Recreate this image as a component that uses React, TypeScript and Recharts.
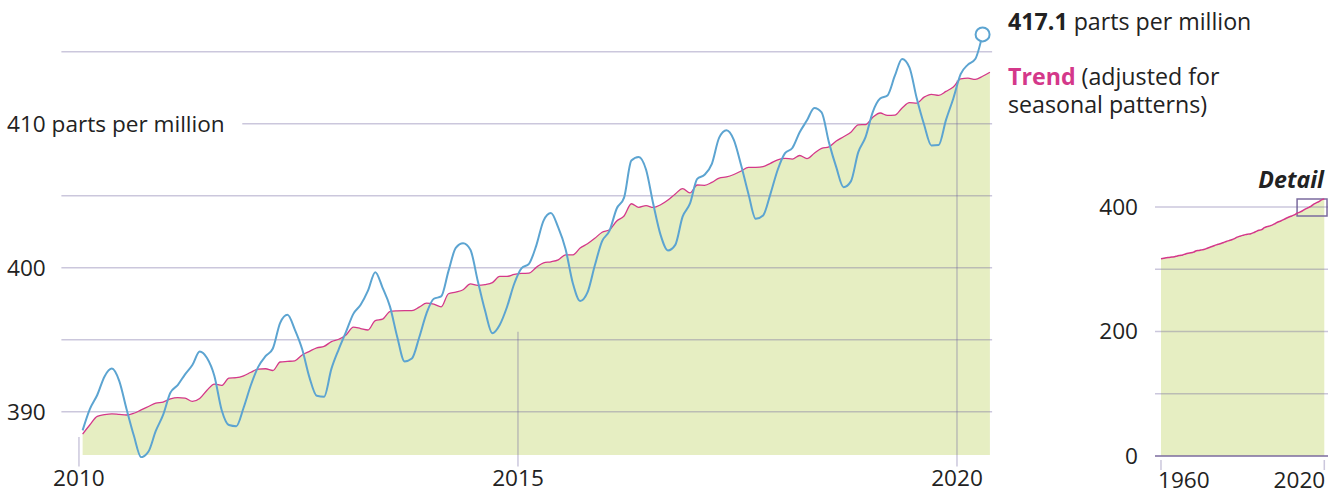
import React from "react";
import {
  ComposedChart,
  Area,
  Line,
  XAxis,
  YAxis,
  ReferenceLine,
  ReferenceDot,
  ReferenceArea,
} from "recharts";

// monthly mean CO2, Jan 2010 – Apr 2020 (ppm)
const CO2_MONTHLY = [
  388.71, 390.2, 391.17, 392.46, 393.0, 392.15, 390.2, 388.35, 386.85, 387.24, 388.67, 389.79,
  391.33, 391.86, 392.6, 393.25, 394.19, 393.74, 392.51, 390.13, 389.08, 389.0, 390.28, 391.86,
  393.12, 393.86, 394.4, 396.18, 396.74, 395.71, 394.36, 392.39, 391.11, 391.05, 392.98, 394.34,
  395.55, 396.8, 397.43, 398.41, 399.7, 398.61, 397.32, 395.2, 393.5, 393.7, 395.16, 396.84,
  397.85, 398.01, 399.77, 401.38, 401.7, 401.25, 399.1, 397.03, 395.45, 396.03, 397.28, 398.91,
  399.98, 400.28, 401.54, 403.28, 403.8, 402.8, 401.31, 398.93, 397.7, 398.29, 400.16, 401.85,
  402.56, 404.12, 404.87, 407.45, 407.7, 406.83, 404.41, 402.27, 401.2, 401.59, 403.55, 404.45,
  406.17, 406.46, 407.22, 409.04, 409.55, 408.88, 407.12, 405.13, 403.4, 403.63, 405.12, 406.81,
  407.96, 408.32, 409.41, 410.24, 411.1, 410.79, 408.71, 406.99, 405.6, 406.0, 408.02, 409.07,
  410.83, 411.75, 411.97, 413.32, 414.5, 413.92, 411.77, 409.95, 408.5, 408.53, 410.27, 411.76,
  413.45, 414.11, 414.5, 416.21,
];

// trend (seasonally adjusted), Jan 2010 – May 2020
const TREND_MONTHLY = [
  388.45, 389.1, 389.68, 389.8, 389.86, 389.82, 389.78, 389.9, 390.13, 390.37, 390.61, 390.68,
  390.9, 390.99, 390.95, 390.73, 390.93, 391.5, 391.93, 391.83, 392.34, 392.37, 392.5, 392.75,
  392.97, 392.99, 392.87, 393.46, 393.5, 393.54, 393.95, 394.2, 394.44, 394.54, 394.88, 395.04,
  395.33, 395.88, 395.78, 395.68, 396.34, 396.43, 396.96, 397.01, 397.03, 397.03, 397.27, 397.55,
  397.47, 397.29, 398.2, 398.32, 398.48, 398.88, 398.78, 398.83, 398.97, 399.4, 399.4, 399.55,
  399.61, 399.63, 400.03, 400.35, 400.42, 400.55, 400.9, 400.9, 401.37, 401.67, 402.05, 402.47,
  402.64, 403.25, 403.6, 404.45, 404.2, 404.32, 404.19, 404.38, 404.71, 405.13, 405.5, 405.2,
  405.75, 405.73, 405.93, 406.23, 406.31, 406.48, 406.72, 406.97, 406.98, 407.03, 407.25, 407.5,
  407.6, 407.55, 407.8, 407.58, 407.95, 408.3, 408.4, 408.8, 409.1, 409.42, 409.93, 409.95,
  410.45, 410.75, 410.58, 410.6, 411.1, 411.47, 411.44, 411.85, 412.05, 411.98, 412.25, 412.55,
  413.12, 413.17, 413.08, 413.3, 413.58,
];

// annual trend for the overview panel, 1960–2020
const LONG_YEARS = Array.from({ length: 61 }, (_, i) => 1960 + i);
const LONG_TREND = [
  316.9, 317.6, 318.5, 319.0, 319.6, 320.0, 321.4, 322.2, 323.0, 324.6,
  325.7, 326.3, 327.5, 329.7, 330.2, 331.1, 332.0, 333.8, 335.4, 336.8,
  338.7, 340.1, 341.4, 343.0, 344.6, 346.0, 347.4, 349.2, 351.6, 353.1,
  354.4, 355.6, 356.4, 357.1, 358.8, 360.8, 362.6, 363.7, 366.7, 368.4,
  369.7, 371.3, 373.5, 375.8, 377.5, 379.8, 381.9, 383.8, 385.6, 387.4,
  389.9, 391.7, 393.9, 396.5, 398.7, 400.8, 404.2, 406.5, 408.7, 411.4,
  413.0,
];

const MAIN_X_TICKS = [2010, 2015, 2020];
const MAIN_Y_TICKS = [390, 400, 410];
const MAIN_GRID = [390, 395, 400, 405, 410, 415];
const INSET_Y_TICKS = [0, 200, 400];
const INSET_GRID = [100, 200, 300, 400];
const INSET_X_TICKS = [1960, 2020];

const monthlyData = TREND_MONTHLY.map((trend, i) => ({
  t: 2010 + (i + 0.5) / 12,
  trend,
  co2: CO2_MONTHLY[i],
}));
const longData = LONG_YEARS.map((year, i) => ({ year, trend: LONG_TREND[i] }));

const FONT = "'Open Sans', 'Noto Sans', sans-serif";
const TEXT = "#222";
const BLUE = "#5ca4d1";
const PINK = "#d4388a";
const FILL = "#e6eec2";
const GRID = "rgba(106,95,154,0.35)";
const PURPLE = "#7b6b9e";
const AXIS_FS = 22.6;
const NOTE_FS = 23.2;

const lastIdx = CO2_MONTHLY.length - 1;

export default function App() {
  return (
    <div
      style={{
        position: "absolute",
        left: 0,
        top: 0,
        width: 1342,
        height: 495,
        background: "#fff",
        fontFamily: FONT,
      }}
    >
      <div style={{ position: "absolute", left: 0, top: 0 }}>
        <ComposedChart
          width={1000}
          height={495}
          data={monthlyData}
          margin={{ top: 8.6, right: 7.9, left: 0, bottom: 0 }}
        >
          <XAxis
            dataKey="t"
            type="number"
            domain={[2009.8, 2020.4]}
            ticks={MAIN_X_TICKS}
            allowDataOverflow
            height={37.1}
            axisLine={false}
            tickLine={false}
            tick={(p: any) => (
              <text
                x={p.x}
                y={486}
                textAnchor="middle"
                fontSize={AXIS_FS}
                fill={TEXT}
                fontFamily={FONT}
              >
                {p.payload.value}
              </text>
            )}
          />
          <YAxis
            type="number"
            domain={[386.8, 418]}
            ticks={MAIN_Y_TICKS}
            allowDataOverflow
            width={61.4}
            axisLine={false}
            tickLine={false}
            tick={(p: any) => (
              <text
                x={7}
                y={p.y + 8}
                textAnchor="start"
                fontSize={AXIS_FS}
                fill={TEXT}
                fontFamily={FONT}
              >
                {p.payload.value === 410 ? "410 parts per million" : p.payload.value}
              </text>
            )}
          />
          <Area
            dataKey="trend"
            type="monotone"
            stroke="none"
            fill={FILL}
            fillOpacity={1}
            baseValue={387}
            isAnimationActive={false}
          />
          {MAIN_GRID.map((v) => (
            <ReferenceLine
              key={v}
              segment={[
                { x: v === 410 ? 2011.86 : 2009.8, y: v },
                { x: 2020.4, y: v },
              ]}
              stroke={GRID}
              strokeWidth={1.5}
            />
          ))}
          <ReferenceLine
            segment={[{ x: 2010, y: 388.26 }, { x: 2010, y: 386.2 }]}
            stroke={GRID}
            strokeWidth={1.5}
            ifOverflow="visible"
          />
          <ReferenceLine
            segment={[{ x: 2015, y: 395.56 }, { x: 2015, y: 386.2 }]}
            stroke={GRID}
            strokeWidth={1.5}
            ifOverflow="visible"
          />
          <ReferenceLine
            segment={[{ x: 2020, y: 413.0 }, { x: 2020, y: 386.2 }]}
            stroke={GRID}
            strokeWidth={1.5}
            ifOverflow="visible"
          />
          <Line
            dataKey="trend"
            type="monotone"
            stroke={PINK}
            strokeWidth={1.3}
            dot={false}
            isAnimationActive={false}
          />
          <Line
            dataKey="co2"
            type="monotone"
            stroke={BLUE}
            strokeWidth={2}
            dot={false}
            connectNulls={false}
            isAnimationActive={false}
          />
          <ReferenceDot
            x={monthlyData[lastIdx].t}
            y={CO2_MONTHLY[lastIdx]}
            r={7}
            fill="#fff"
            stroke={BLUE}
            strokeWidth={2}
            ifOverflow="visible"
          />
        </ComposedChart>
      </div>

      <div style={{ position: "absolute", left: 1080, top: 0 }}>
        <ComposedChart
          width={262}
          height={495}
          data={longData}
          margin={{ top: 188.3, right: 14, left: 0, bottom: 0 }}
        >
          <XAxis
            dataKey="year"
            type="number"
            domain={[1957.8, 2021.36]}
            ticks={INSET_X_TICKS}
            allowDataOverflow
            height={39}
            axisLine={false}
            tickLine={false}
            tick={(p: any) => (
              <text
                x={p.payload.value === 1960 ? p.x - 3 : p.x + 1}
                y={488}
                textAnchor={p.payload.value === 1960 ? "start" : "end"}
                fontSize={AXIS_FS}
                fill={TEXT}
                fontFamily={FONT}
              >
                {p.payload.value}
              </text>
            )}
          />
          <YAxis
            type="number"
            domain={[0, 430]}
            ticks={INSET_Y_TICKS}
            allowDataOverflow
            width={75}
            axisLine={false}
            tickLine={false}
            tick={(p: any) => (
              <text
                x={58}
                y={p.y + 8}
                textAnchor="end"
                fontSize={AXIS_FS}
                fill={TEXT}
                fontFamily={FONT}
              >
                {p.payload.value}
              </text>
            )}
          />
          <Area
            dataKey="trend"
            type="monotone"
            stroke="none"
            fill={FILL}
            fillOpacity={1}
            isAnimationActive={false}
          />
          {INSET_GRID.map((v) => (
            <ReferenceLine key={v} y={v} stroke={GRID} strokeWidth={1.5} />
          ))}
          <ReferenceLine y={0} stroke={PURPLE} strokeWidth={1.5} />
          {INSET_X_TICKS.map((v) => (
            <ReferenceLine
              key={v}
              segment={[{ x: v, y: -6.4 }, { x: v, y: -22.5 }]}
              stroke={GRID}
              strokeWidth={1.5}
              ifOverflow="visible"
            />
          ))}
          <Line
            dataKey="trend"
            type="monotone"
            stroke={PINK}
            strokeWidth={1.5}
            dot={false}
            isAnimationActive={false}
          />
          <ReferenceArea
            x1={2010}
            x2={2021}
            y1={385.5}
            y2={413}
            fill="none"
            fillOpacity={0}
            stroke={PURPLE}
            strokeWidth={1.5}
            ifOverflow="visible"
          />
        </ComposedChart>
      </div>

      <svg
        width={1342}
        height={495}
        style={{ position: "absolute", left: 0, top: 0, pointerEvents: "none" }}
        fontFamily={FONT}
      >
        <text x={1008} y={30} fontSize={NOTE_FS} fill={TEXT}>
          <tspan fontWeight={700}>417.1</tspan>
          <tspan> parts per million</tspan>
        </text>
        <text x={1008} y={85} fontSize={NOTE_FS} fill={TEXT}>
          <tspan fontWeight={700} fill={PINK}>
            Trend
          </tspan>
          <tspan> (adjusted for</tspan>
        </text>
        <text x={1008} y={113} fontSize={NOTE_FS} fill={TEXT}>
          seasonal patterns)
        </text>
        <text
          x={1324}
          y={188}
          fontSize={NOTE_FS}
          fontWeight={700}
          fontStyle="italic"
          textAnchor="end"
          fill={TEXT}
        >
          Detail
        </text>
      </svg>
    </div>
  );
}
